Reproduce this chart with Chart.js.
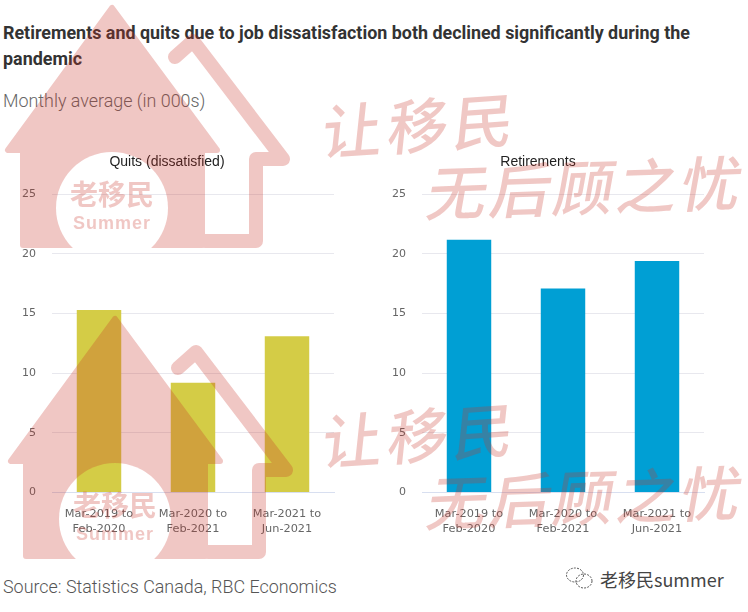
<!DOCTYPE html>
<html>
<head>
<meta charset="utf-8">
<script src="https://cdn.jsdelivr.net/npm/chart.js@4"></script>
<style>
  html, body { margin: 0; padding: 0; background: #fff; }
  #page { position: relative; width: 748px; height: 612px; overflow: hidden; font-family: Roboto, sans-serif; }
  #page > div { position: absolute; white-space: nowrap; }
  canvas { position: absolute; }
  #heading { left: 3px; top: 20px; font-size: 17.9px; line-height: 26px; font-weight: 700; color: #333; }
  #subhead { left: 3px; top: 89px; font-size: 17.9px; line-height: 24px; font-weight: 300; color: #666; }
  #source { left: 3px; top: 575px; font-size: 17.9px; line-height: 24px; font-weight: 300; color: #555; }
  #wechat { left: 600px; top: 567px; font-size: 18px; line-height: 24px; color: #444; font-family: "Noto Sans CJK SC", sans-serif; }
  svg { position: absolute; left: 0; top: 0; pointer-events: none; }
</style>
</head>
<body>
<div id="page">
  <div id="heading">Retirements and quits due to job dissatisfaction both declined significantly during the<br>pandemic</div>
  <div id="subhead">Monthly average (in 000s)</div>
  <canvas id="quitsChart" width="347" height="400" style="left:0;top:150px"></canvas>
  <canvas id="retireChart" width="344" height="400" style="left:372px;top:150px"></canvas>
  <div id="source">Source: Statistics Canada, RBC Economics</div>
  <div id="wechat">老移民summer</div>

  <svg width="748" height="612">
    <defs>
      <mask id="doorHole" maskUnits="userSpaceOnUse" x="0" y="0" width="300" height="260">
        <rect width="300" height="260" fill="#fff"/>
        <circle cx="112" cy="208" r="56" fill="#000"/>
      </mask>
      <g id="house">
        <path d="M112 8 L8 150 L23 150 L23 245 L202 245 L202 150 L217 150 Z" stroke-width="6" stroke-linejoin="round" stroke="#c83228" mask="url(#doorHole)"/>
        <path d="M175 57 L193 41 L283 159 L256 159 L256 241 L205 241" fill="none" stroke="#c83228" stroke-width="14" stroke-linejoin="round" stroke-linecap="round"/>
        <text x="112" y="205" text-anchor="middle" font-family="Noto Sans CJK SC" font-weight="700" font-size="28">老移民</text>
        <text x="112" y="229" text-anchor="middle" font-family="Liberation Sans" font-weight="700" font-size="18" letter-spacing="1">Summer</text>
      </g>
      <g id="slogan" font-family="Noto Sans CJK SC" font-weight="500">
        <text transform="translate(320 155) skewX(-10) rotate(-4)" font-size="60" textLength="190">让移民</text>
        <text transform="translate(424 216) skewX(-12) rotate(-2)" font-size="60" textLength="312">无后顾之忧</text>
      </g>
    </defs>
    <g opacity="0.27" fill="#c83228">
      <use href="#house"/>
    </g>
    <g opacity="0.27" fill="#c83228">
      <use href="#house" transform="translate(3 311)"/>
    </g>
    <g fill="#c83228" fill-opacity="0.27">
      <use href="#slogan"/>
      <use href="#slogan" transform="translate(0 310)"/>
    </g>
    <g fill="none" stroke="#555" stroke-width="1" stroke-dasharray="2 1.2">
      <ellipse cx="575" cy="575" rx="8.5" ry="7"/>
      <ellipse cx="584" cy="581" rx="8" ry="7"/>
    </g>
  </svg>
</div>

<script>
const periods = [
  ['Mar-2019 to', 'Feb-2020'],
  ['Mar-2020 to', 'Feb-2021'],
  ['Mar-2021 to', 'Jun-2021']
];
const quits = [15.3, 9.2, 13.1];
const retirements = [21.2, 17.1, 19.4];
const yTicks = [0, 5, 10, 15, 20, 25];

const barChart = (id, data, title, color, yWidth, rightPad) => {
  new Chart(document.getElementById(id), {
    type: 'bar',
    data: {
      labels: periods,
      datasets: [{
        data: data,
        backgroundColor: color,
        categoryPercentage: 1,
        barPercentage: 0.473
      }]
    },
    options: {
      responsive: false,
      animation: false,
      layout: { padding: { right: rightPad, left: 0, top: 0, bottom: 0 } },
      plugins: {
        legend: { display: false },
        tooltip: { enabled: false },
        title: {
          display: true,
          text: title,
          color: '#222',
          font: { family: 'Liberation Sans', size: 14, weight: 'normal' },
          padding: { top: 4, bottom: 23.5 }
        }
      },
      scales: {
        x: {
          grid: { display: false },
          border: { color: '#d8dff0' },
          ticks: {
            color: '#666',
            maxRotation: 0,
            autoSkip: false,
            padding: 7,
            font: { family: 'DejaVu Sans', size: 11.3, lineHeight: 1.25 }
          },
          afterFit: (s) => { s.height = 57.5; }
        },
        y: {
          min: 0,
          max: 25,
          grid: { color: '#e8e8ee', drawTicks: false },
          border: { display: false },
          afterBuildTicks: (s) => { s.ticks = yTicks.map((v) => ({ value: v })); },
          ticks: {
            color: '#666',
            padding: 16,
            font: { family: 'DejaVu Sans', size: 11 }
          },
          afterFit: (s) => { s.width = yWidth; }
        }
      }
    }
  });
};

barChart('quitsChart', quits, 'Quits (dissatisfied)', '#d4cc46', 52, 13);
barChart('retireChart', retirements, 'Retirements', '#009fd4', 50, 12);
</script>
</body>
</html>
